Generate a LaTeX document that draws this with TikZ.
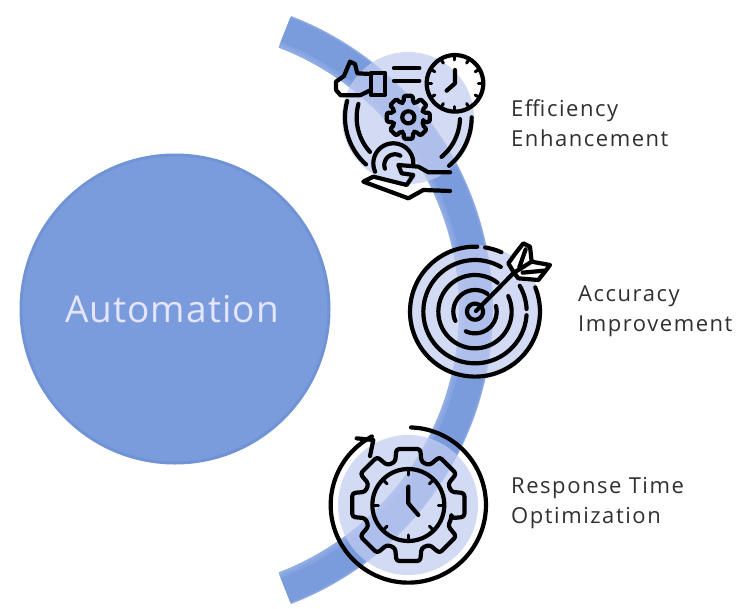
\documentclass[tikz,border=0pt]{standalone}
\usepackage{fontspec}
\setmainfont{Open Sans}
\newcommand{\parc}[5]{\draw[ic] plot[domain=#4:#5,samples=48,smooth] ({#1+#3*cos(\x)},{#2-#3*sin(\x)});}
\newcommand{\gearp}[5]{\draw[ic,rounded corners=#5] ({#1+#4*cos(-17)},{#2-#4*sin(-17)})
  \foreach \a in {0,45,...,315}{
   -- ({#1+#3*cos(\a-12)},{#2-#3*sin(\a-12)})
   -- ({#1+#3*cos(\a+12)},{#2-#3*sin(\a+12)})
   -- ({#1+#4*cos(\a+17)},{#2-#4*sin(\a+17)})
   -- ({#1+#4*cos(\a+28)},{#2-#4*sin(\a+28)})
  } -- cycle;}
\tikzset{
  ic/.style={line width=4.2pt,draw=black,line cap=round,line join=round},
  disc/.style={fill=discblue,fill opacity=0.72,draw=none},
  lab/.style={font=\fontsize{22}{30}\selectfont\addfontfeature{LetterSpace=7},text=labgray,align=left,anchor=west,inner sep=0pt},
  cropa/.style={shift={(320,40)},x=0.3333pt,y=-0.3333pt},
  cropb/.style={shift={(400,230)},x=0.3333pt,y=-0.3333pt},
  cropc/.style={shift={(320,420)},x=0.3333pt,y=-0.3333pt}
}
\definecolor{discblue}{HTML}{C3CDF1}
\definecolor{labgray}{HTML}{303030}
\definecolor{bandblue}{HTML}{7B9CDC}
\definecolor{bandlight}{HTML}{8FACE5}
\definecolor{hubrim}{HTML}{7093D6}
\begin{document}
\begin{tikzpicture}[x=1pt,y=-1pt]
\useasboundingbox (0,0) rectangle (738,608);
\fill[white] (0,0) rectangle (738,608);
% arc band
\draw[line width=34pt,draw=bandlight] plot[domain=-69:69,samples=80,smooth] ({178+298*cos(\x)},{310-298*sin(\x)});
\draw[line width=30pt,draw=bandblue!50!bandlight] plot[domain=-69:69,samples=80,smooth] ({178+299*cos(\x)},{310-299*sin(\x)});
\draw[line width=26pt,draw=bandblue] plot[domain=-69:69,samples=80,smooth] ({178+300*cos(\x)},{310-300*sin(\x)});
% main circle
\node[circle,minimum size=308pt,inner sep=0pt,fill=bandblue,draw=hubrim,line width=3pt] (hub) at (175,309) {};
\node[font=\fontsize{37}{44}\selectfont\addfontfeature{LetterSpace=3},text=white!90!blue,inner sep=0pt] (hubtext) at (172,309) {Automation};
% discs
\fill[disc] (408,118) circle[radius=66];
\fill[disc] (475,312) circle[radius=67];
\fill[disc] (408,505) circle[radius=70];
% icon 1
\begin{scope}[cropa]
 \parc{405}{130}{85}{0}{360}
 \foreach \a in {0,30,...,330}{\draw[ic,line width=3pt] ({405+85*cos(\a)},{130-85*sin(\a)}) -- ({405+70*cos(\a)},{130-70*sin(\a)});}
 \draw[ic] (405,90) -- (405,130) -- (380,152);
 \draw[ic] (153,98) rectangle (195,165);
 \draw[ic] (153,102) -- (112,100) -- (105,72) -- (90,65) -- (72,108) -- (48,125) -- (48,150) -- (62,166) -- (120,166) -- (153,150);
 \draw[ic] (222,85) -- (298,85) (222,122) -- (298,122);
 \gearp{265}{232}{66}{47}{2pt}
 \parc{265}{232}{18}{0}{360}
 \parc{265}{232}{190}{165}{228}
 \parc{265}{232}{155}{165}{222}
 \parc{265}{232}{190}{-50}{0}
 \parc{265}{232}{155}{-50}{-2}
 \parc{220}{370}{60}{-5}{205}
 \parc{225}{375}{32}{60}{200}
 \draw[ic] (390,397) -- (325,397) -- (295,380) -- (235,375) -- (245,400) -- (280,405) -- (260,435) -- (160,410) -- (130,425) -- (265,475) -- (310,450) -- (390,453);
\end{scope}
% icon 2
\begin{scope}[cropb]
 \parc{225}{245}{195}{88}{382}
 \parc{225}{245}{195}{66}{81}
 \parc{225}{245}{155}{60}{356}
 \parc{225}{245}{155}{3}{30}
 \parc{225}{245}{110}{52}{385}
 \parc{225}{245}{65}{55}{205}
 \parc{225}{245}{65}{245}{375}
 \parc{225}{245}{24}{0}{360}
 \draw[ic] (228,243) -- (342,128);
 \draw[ic,fill=white] (342,128) -- (325,100) -- (345,72) -- (370,40) -- (390,50) -- (395,95) -- (450,105) -- (435,125) -- (415,150) -- (355,145) -- cycle;
 \draw[ic] (342,128) -- (395,95) (358,112) -- (377,58) (368,128) -- (432,122);
\end{scope}
% icon 3
\begin{scope}[cropc]
 \parc{265}{255}{233}{-242}{88}
 \draw[ic] (110,55) -- (160,60) -- (150,108);
 \gearp{265}{255}{172}{135}{3pt}
 \parc{265}{255}{108}{0}{360}
 \foreach \a in {0,45,...,315}{\draw[ic,line width=3pt] ({265+108*cos(\a)},{255-108*sin(\a)}) -- ({265+90*cos(\a)},{255-90*sin(\a)});}
 \draw[ic] (265,200) -- (265,250) -- (295,285);
\end{scope}
% labels
\node[lab] (eff) at (511,123) {Efficiency\\Enhancement};
\node[lab] (acc) at (578,311) {Accuracy\\Improvement};
\node[lab] (res) at (511,503) {Response Time\\Optimization};
\end{tikzpicture}
\end{document}
